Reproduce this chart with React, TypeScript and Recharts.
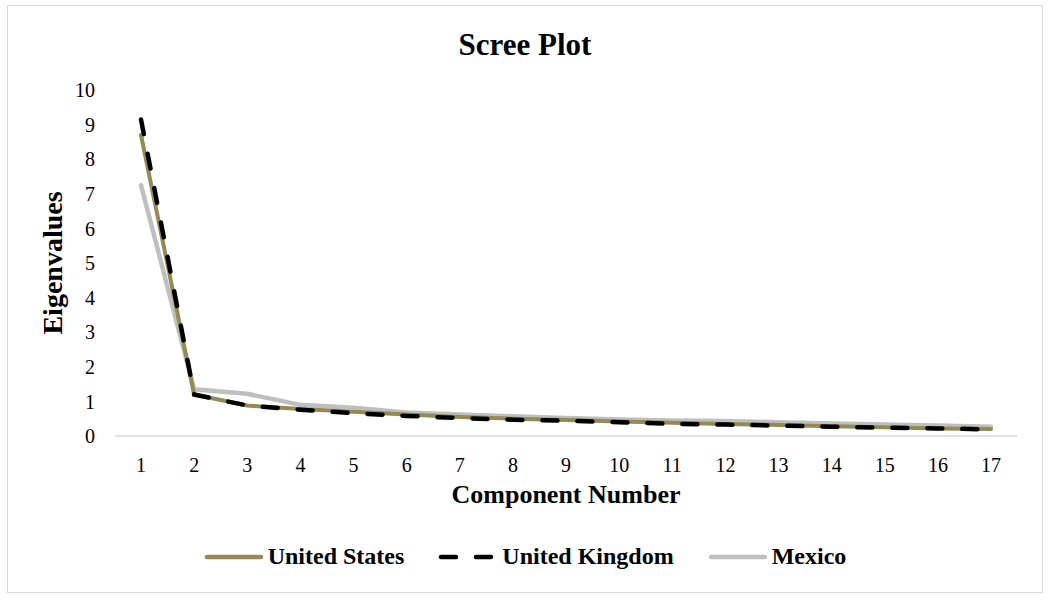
import { LineChart, Line, XAxis, YAxis } from 'recharts';

const components = ['1', '2', '3', '4', '5', '6', '7', '8', '9', '10', '11', '12', '13', '14', '15', '16', '17'];
const unitedStates = [8.7, 1.2, 0.88, 0.78, 0.7, 0.62, 0.55, 0.5, 0.46, 0.42, 0.38, 0.35, 0.32, 0.28, 0.25, 0.22, 0.2];
const unitedKingdom = [9.15, 1.2, 0.88, 0.76, 0.66, 0.58, 0.52, 0.47, 0.44, 0.4, 0.35, 0.33, 0.3, 0.27, 0.24, 0.22, 0.19];
const mexico = [7.25, 1.35, 1.22, 0.9, 0.82, 0.68, 0.62, 0.57, 0.52, 0.48, 0.45, 0.43, 0.4, 0.36, 0.33, 0.3, 0.27];
const yTicks = [0, 1, 2, 3, 4, 5, 6, 7, 8, 9, 10];

const data = components.map((c, i) => ({
  component: c,
  us: unitedStates[i],
  uk: unitedKingdom[i],
  mx: mexico[i],
}));

const FONT = '"Liberation Serif", "Times New Roman", serif';
const UK_DASH = '15 20';

const legendItems = [
  { name: 'United States', color: '#948a54', dash: undefined as string | undefined },
  { name: 'United Kingdom', color: '#000000', dash: UK_DASH },
  { name: 'Mexico', color: '#bfbfbf', dash: undefined as string | undefined },
];

function ScreeLegend() {
  return (
    <div style={{ display: 'flex', justifyContent: 'center', gap: 34, fontFamily: FONT, fontWeight: 'bold', fontSize: 24 }}>
      {legendItems.map((it) => (
        <div key={it.name} style={{ display: 'flex', alignItems: 'center' }}>
          <svg width={60} height={10} style={{ marginRight: 4 }}>
            <line x1={3} y1={5} x2={57} y2={5} stroke={it.color} strokeWidth={4.5} strokeDasharray={it.dash} strokeLinecap="round" />
          </svg>
          <span>{it.name}</span>
        </div>
      ))}
    </div>
  );
}

export default function App() {
  return (
    <div style={{ position: 'absolute', left: 0, top: 0, width: 1050, height: 600, background: '#fff' }}>
      <div style={{ position: 'absolute', left: 7, top: 5, width: 1034, height: 586, border: '1px solid #d9d9d9' }} />
      <div style={{ position: 'absolute', left: 0, top: 27, width: 1050, textAlign: 'center', fontFamily: FONT, fontWeight: 'bold', fontSize: 31 }}>
        Scree Plot
      </div>
      <div
        style={{
          position: 'absolute', left: 53, top: 263, fontFamily: FONT, fontWeight: 'bold', fontSize: 28,
          transform: 'translate(-50%, -50%) rotate(-90deg)', whiteSpace: 'nowrap',
        }}
      >
        Eigenvalues
      </div>
      <div style={{ position: 'absolute', left: 115, top: 480, width: 902, textAlign: 'center', fontFamily: FONT, fontWeight: 'bold', fontSize: 26 }}>
        Component Number
      </div>
      <div style={{ position: 'absolute', left: 0, top: 543, width: 1050 }}>
        <ScreeLegend />
      </div>
      <div style={{ position: 'absolute', left: 0, top: 0 }}>
        <LineChart width={1050} height={600} data={data} margin={{ top: 90, right: 33, bottom: 134, left: 0 }}>
          <XAxis
            dataKey="component"
            padding={{ left: 26, right: 26 }}
            axisLine={{ stroke: '#d9d9d9', strokeWidth: 1.5 }}
            tickLine={false}
            tick={{ fill: '#000', fontSize: 20, fontFamily: FONT }}
            dy={14}
          />
          <YAxis
            width={115}
            domain={[0, 10]}
            ticks={yTicks}
            axisLine={false}
            tickLine={false}
            tick={{ fill: '#000', fontSize: 20, fontFamily: FONT }}
            dx={-12}
          />
          <Line type="linear" dataKey="mx" name="Mexico" stroke="#bfbfbf" strokeWidth={4.5} dot={false} isAnimationActive={false} strokeLinecap="round" />
          <Line type="linear" dataKey="us" name="United States" stroke="#948a54" strokeWidth={4} dot={false} isAnimationActive={false} strokeLinecap="round" />
          <Line type="linear" dataKey="uk" name="United Kingdom" stroke="#000000" strokeWidth={4.5} strokeDasharray={UK_DASH} dot={false} isAnimationActive={false} strokeLinecap="round" />
        </LineChart>
      </div>
    </div>
  );
}
